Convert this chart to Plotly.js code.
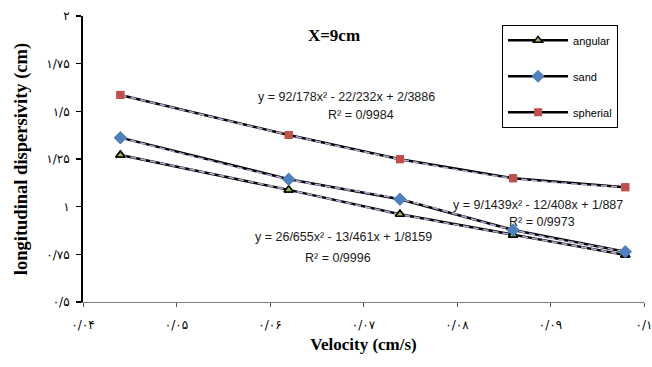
<!DOCTYPE html>
<html>
<head>
<meta charset="utf-8">
<script src="https://cdn.plot.ly/plotly-3.0.1.min.js"></script>
<style>
  html, body { margin: 0; padding: 0; background: #fff; }
  #chart { width: 652px; height: 367px; }
</style>
</head>
<body>
<div id="chart"></div>
<script>
// ---- data ----
const velocity = [0.0440, 0.0620, 0.0739, 0.0860, 0.0980];
const angular  = [1.271, 1.088, 0.960, 0.852, 0.747];
const sand     = [1.362, 1.144, 1.039, 0.878, 0.764];
const spherial = [1.586, 1.376, 1.249, 1.149, 1.102];

const seriesNames = ['angular', 'sand', 'spherial'];

const xTickVals = [0.04, 0.05, 0.06, 0.07, 0.08, 0.09, 0.1];
const xTickText = ['۰/۰۴', '۰/۰۵', '۰/۰۶', '۰/۰۷', '۰/۰۸', '۰/۰۹', '۰/۱'];
const yTickVals = [0.5, 0.75, 1, 1.25, 1.5, 1.75, 2];
const yTickText = ['۰/۵', '۰/۷۵', '۱', '۱/۲۵', '۱/۵', '۱/۷۵', '۲'];

const equations = [
  'y = 26/655x² - 13/461x + 1/8159', 'R² = 0/9996',
  'y = 9/1439x² - 12/408x + 1/887',  'R² = 0/9973',
  'y = 92/178x² - 22/232x + 2/3886', 'R² = 0/9984'
];

// ---- styles ----
const serif = 'Liberation Serif, Times New Roman, serif';
const sans = 'Liberation Sans, Arial, sans-serif';
const persian = 'DejaVu Sans, sans-serif';
const trendColor = '#b9a9d6';

const markerStyles = [
  {symbol: 'triangle-up', size: 8, color: '#9bbb59', line: {color: '#000', width: 1.5}},
  {symbol: 'diamond', size: 10, color: '#4f81bd', line: {color: '#4f81bd', width: 0}},
  {symbol: 'square', size: 8, color: '#c0504d', line: {color: '#c0504d', width: 0}}
];
const values = [angular, sand, spherial];

const traces = [];
// black series lines (with legend)
values.forEach((v, i) => {
  traces.push({
    x: velocity, y: v, name: seriesNames[i], type: 'scatter', mode: 'lines+markers',
    line: {color: '#000', width: 2.5}, marker: markerStyles[i],
    legendgroup: seriesNames[i], showlegend: true
  });
});
// dashed trendlines
values.forEach((v, i) => {
  traces.push({
    x: velocity, y: v, type: 'scatter', mode: 'lines',
    line: {color: trendColor, width: 1.6, dash: '6px,4px', shape: 'spline'},
    showlegend: false, hoverinfo: 'skip'
  });
});
// markers on top
values.forEach((v, i) => {
  traces.push({
    x: velocity, y: v, type: 'scatter', mode: 'markers',
    marker: markerStyles[i], showlegend: false, hoverinfo: 'skip'
  });
});

const eqFont = {family: sans, size: 12.5, color: '#1a1a1a'};
const eqPos = [
  [0.4652, 0.2273], [0.4545, 0.1538],
  [0.811, 0.339], [0.8173, 0.278],
  [0.4697, 0.7168], [0.4947, 0.6538]
];
const annotations = equations.map((t, i) => ({
  text: t, xref: 'paper', yref: 'paper', x: eqPos[i][0], y: eqPos[i][1],
  xanchor: 'center', yanchor: 'middle', showarrow: false, font: eqFont
}));

const layout = {
  width: 652, height: 367,
  margin: {l: 83, r: 8, t: 16, b: 65},
  paper_bgcolor: '#fff', plot_bgcolor: '#fff',
  title: {
    text: '<b>X=9cm</b>', font: {family: serif, size: 17, color: '#000'},
    xref: 'paper', x: 0.4474, xanchor: 'center',
    yref: 'container', y: 1 - 35 / 367, yanchor: 'middle'
  },
  xaxis: {
    range: [0.04, 0.1], tickvals: xTickVals, ticktext: xTickText,
    showgrid: false, zeroline: false,
    showline: true, linecolor: '#7f7f7f', linewidth: 1,
    ticks: 'outside', ticklen: 4, tickcolor: '#595959', tickwidth: 1,
    ticklabelstandoff: 8, ticklabeloverflow: 'allow',
    tickfont: {family: persian, size: 12, color: '#000'},
    title: {text: '<b>Velocity (cm/s)</b>', font: {family: serif, size: 17, color: '#000'}, standoff: 6}
  },
  yaxis: {
    range: [0.5, 2], tickvals: yTickVals, ticktext: yTickText,
    showgrid: false, zeroline: false,
    showline: true, linecolor: '#000', linewidth: 2,
    ticks: 'outside', ticklen: 5, tickcolor: '#000', tickwidth: 1.5,
    ticklabelstandoff: 4,
    tickfont: {family: persian, size: 12, color: '#000'},
    title: {text: '<b>longitudinal dispersivity (cm)</b>', font: {family: serif, size: 18.5, color: '#000'}, standoff: 14}
  },
  showlegend: true,
  legend: {
    x: 0.747, y: 0.969, xanchor: 'left', yanchor: 'top',
    bgcolor: '#fff', bordercolor: '#000', borderwidth: 1,
    font: {family: sans, size: 11, color: '#000'},
    traceorder: 'grouped', tracegroupgap: 17, itemwidth: 60
  },
  annotations: annotations
};

Plotly.newPlot('chart', traces, layout, {displayModeBar: false, staticPlot: true});
</script>
</body>
</html>
